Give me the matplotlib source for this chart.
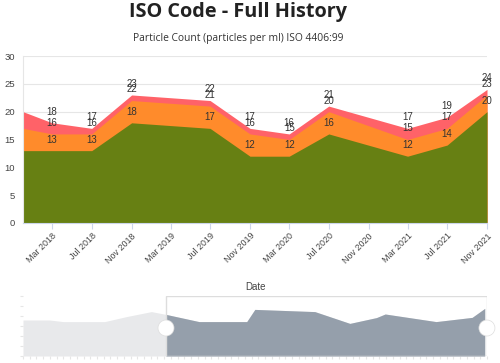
import matplotlib
matplotlib.use("Agg")
import matplotlib.pyplot as plt
import matplotlib.dates as mdates
import pandas as pd
import numpy as np
from matplotlib.patches import Ellipse, Rectangle

# ---- data ----
dates = ["2017-12-01", "2018-03-01", "2018-07-01", "2018-11-01", "2019-07-01",
         "2019-11-01", "2020-03-01", "2020-07-01", "2021-03-01", "2021-07-01",
         "2021-11-01"]
code_4um = [20, 18, 17, 23, 22, 17, 16, 21, 17, 19, 24]
code_6um = [17, 16, 16, 22, 21, 16, 15, 20, 15, 17, 23]
code_14um = [13, 13, 13, 18, 17, 12, 12, 16, 12, 14, 20]

nav_dates = ["2017-12-01", "2018-02-21", "2018-04-04", "2018-08-10", "2018-10-16",
             "2019-01-01", "2019-02-15", "2019-05-28", "2019-10-22", "2019-11-16",
             "2020-05-19", "2020-09-04", "2020-11-25", "2020-12-22", "2021-05-28",
             "2021-09-16", "2021-10-25"]
nav_values = [18, 18, 17.2, 17.2, 19.7, 22.2, 20.8, 17.2, 17.2, 23.3,
              22.2, 16.3, 19.2, 21, 17.2, 19.3, 23.8]
nav_selected_start = "2019-02-15"

title = "ISO Code - Full History"
subtitle = "Particle Count (particles per ml) ISO 4406:99"
xlabel = "Date"

colors = {"4": "#ff6268", "6": "#ff8b2b", "14": "#678013"}

x = pd.to_datetime(dates)
xn = pd.to_datetime(nav_dates)
x0, x1 = x[0], x[-1]

W, H = 500, 363
fig = plt.figure(figsize=(W / 100, H / 100), dpi=100)
plt.rcParams["font.family"] = ["Liberation Sans", "DejaVu Sans"]

def ax_rect(l, t, r, b):
    return [l / W, 1 - b / H, (r - l) / W, (b - t) / H]

# titles
fig.text(238 / W, 1 - 12 / H, title, ha="center", va="center",
         fontsize=14.3, fontweight="bold", family=["Open Sans", "DejaVu Sans"], color="#222222")
fig.text(238 / W, 1 - 38 / H, subtitle, ha="center", va="center",
         fontsize=7.4, family=["Open Sans", "DejaVu Sans"], color="#333333")

# ---- main chart ----
ax = fig.add_axes(ax_rect(23, 56, 487, 223))
for vals, c in [(code_4um, colors["4"]), (code_6um, colors["6"]), (code_14um, colors["14"])]:
    ax.fill_between(x, 0, vals, color=c, linewidth=0, zorder=2)
    for i, (xi, v) in enumerate(zip(x, vals)):
        if i == 0:
            continue
        ax.annotate(str(v), (xi, v), xytext=(0, 8), textcoords="offset points",
                    ha="center", va="center", fontsize=7, color="#333333",
                    annotation_clip=False, zorder=5)

ax.set_xlim(x0, x1)
ax.set_ylim(0, 30)
ax.set_yticks(range(0, 31, 5))
ax.yaxis.grid(True, color="#e6e6e6", linewidth=0.8)
ax.set_axisbelow(True)
for s in ["top", "right"]:
    ax.spines[s].set_visible(False)
ax.spines["left"].set_color("#e6e6e6")
ax.spines["bottom"].set_color("#ccd6eb")
ax.tick_params(axis="y", length=0, labelsize=6.8, labelcolor="#444444", pad=6)
ax.xaxis.set_major_locator(mdates.MonthLocator(bymonth=[3, 7, 11]))
ax.xaxis.set_major_formatter(mdates.DateFormatter("%b %Y"))
ax.tick_params(axis="x", length=4, color="#ccd6eb", labelsize=6.4, labelcolor="#444444", pad=2)
for lbl in ax.get_xticklabels():
    lbl.set_rotation(45)
    lbl.set_ha("right")
    lbl.set_rotation_mode("anchor")
fig.text(255 / W, 1 - 287 / H, xlabel, ha="center", va="center", fontsize=7, color="#444444")

# ---- navigator ----
nav = fig.add_axes(ax_rect(23, 296, 487, 356))
sel = pd.Timestamp(nav_selected_start)
nav.fill_between(xn, 0, nav_values, color="#e8e9eb", linewidth=0, zorder=1)
mask_x = np.array(xn) >= np.datetime64(sel)
nav.fill_between(xn, 0, nav_values, where=mask_x, interpolate=True,
                 color="#959fab", linewidth=0, zorder=2)
snum = mdates.date2num(sel)
nav.set_xlim(x0, x1)
nav.set_ylim(0, 30)
nav.add_patch(Rectangle((snum, 0), mdates.date2num(x1) - snum, 30, fill=False,
                        edgecolor="#dddddd", linewidth=1, zorder=3))
for s in ["top", "right", "left", "bottom"]:
    nav.spines[s].set_visible(False)
nav.set_yticks(np.linspace(0, 30, 7))
nav.set_yticklabels([])
nav.tick_params(axis="y", length=2, color="#e6e6e6")
nav.set_xticks(np.linspace(mdates.date2num(x0), mdates.date2num(x1), 70))
nav.set_xticklabels([])
nav.tick_params(axis="x", length=2, color="#e6e6e6")
# handles (circles in pixel space)
for hx in [snum, mdates.date2num(x1) - 0.2]:
    px = nav.transData.transform((hx, 14))
    fx, fy = fig.transFigure.inverted().transform(px)
    fig.patches.append(Ellipse((fx, fy), 16 / W, 16 / H, transform=fig.transFigure,
                               facecolor="white", edgecolor="#dddddd", linewidth=0.5, zorder=10))

fig.savefig("out.png", dpi=100)
